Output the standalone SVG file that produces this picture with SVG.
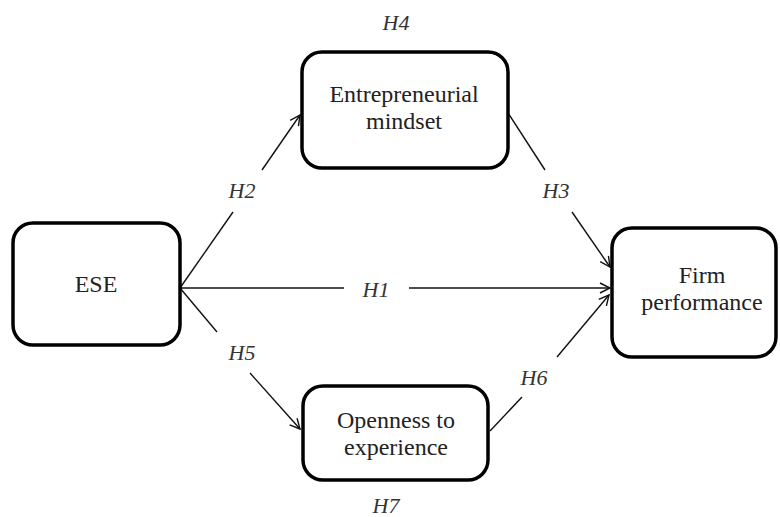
<svg xmlns="http://www.w3.org/2000/svg" width="780" height="517" viewBox="0 0 780 517">
<style>
.box{fill:#fff;stroke:#000;stroke-width:3.5}
.t{font-family:"Liberation Serif","Times New Roman",serif;font-size:24px;fill:#222;text-anchor:middle}
.h{font-family:"Liberation Serif","Times New Roman",serif;font-size:22px;font-style:italic;fill:#333;text-anchor:middle}
.ln{stroke:#111;stroke-width:1.4;fill:none}
</style>
<defs>
<marker id="arr" viewBox="0 0 12 12" refX="11" refY="6" markerWidth="12" markerHeight="12" markerUnits="userSpaceOnUse" orient="auto">
<path d="M1,1 L11,6 L1,11" fill="none" stroke="#111" stroke-width="1.4"/>
</marker>
</defs>
<g id="connectors">
<line class="ln" x1="180" y1="288" x2="344" y2="288"/>
<line class="ln" x1="409" y1="288" x2="610" y2="288" marker-end="url(#arr)"/>
<line class="ln" x1="180" y1="288" x2="233" y2="212"/>
<line class="ln" x1="262" y1="170" x2="300" y2="115" marker-end="url(#arr)"/>
<line class="ln" x1="180" y1="288" x2="217" y2="332"/>
<line class="ln" x1="250" y1="373" x2="300" y2="429" marker-end="url(#arr)"/>
<line class="ln" x1="508" y1="113" x2="545" y2="170"/>
<line class="ln" x1="572" y1="212" x2="610" y2="267" marker-end="url(#arr)"/>
<line class="ln" x1="490" y1="431" x2="522" y2="397"/>
<line class="ln" x1="557" y1="357" x2="609" y2="295" marker-end="url(#arr)"/>
<text class="h" x="376" y="297">H1</text>
<text class="h" x="242" y="198">H2</text>
<text class="h" x="556" y="198">H3</text>
<text class="h" x="396" y="30">H4</text>
<text class="h" x="242" y="360">H5</text>
<text class="h" x="534" y="385">H6</text>
<text class="h" x="386" y="513">H7</text>
</g>
<g id="ese">
<rect class="box" x="13" y="223" width="167" height="122" rx="20"/>
<text class="t" x="96" y="292">ESE</text>
</g>
<g id="mindset">
<rect class="box" x="302" y="52" width="206" height="116" rx="20"/>
<text class="t" x="404" y="102">Entrepreneurial</text>
<text class="t" x="404" y="129">mindset</text>
</g>
<g id="firm">
<rect class="box" x="612" y="228" width="164" height="129" rx="20"/>
<text class="t" x="702" y="283">Firm</text>
<text class="t" x="702" y="310">performance</text>
</g>
<g id="openness">
<rect class="box" x="303" y="386" width="185" height="94" rx="20"/>
<text class="t" x="396" y="428">Openness to</text>
<text class="t" x="396" y="455">experience</text>
</g>
</svg>
